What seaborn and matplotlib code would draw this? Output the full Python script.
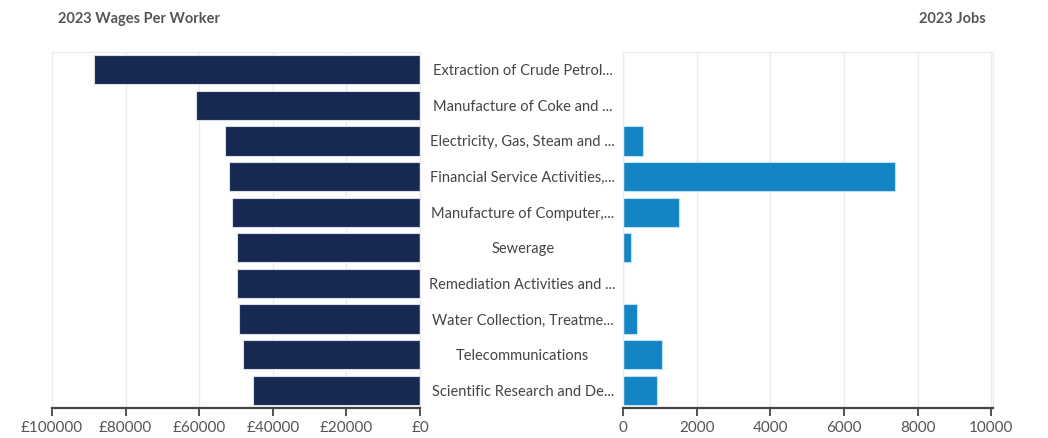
import matplotlib
matplotlib.use("Agg")
import matplotlib.pyplot as plt
import seaborn as sns
import pandas as pd

industries = [
    "Extraction of Crude Petrol...",
    "Manufacture of Coke and ...",
    "Electricity, Gas, Steam and ...",
    "Financial Service Activities,...",
    "Manufacture of Computer,...",
    "Sewerage",
    "Remediation Activities and ...",
    "Water Collection, Treatme...",
    "Telecommunications",
    "Scientific Research and De...",
]
wages = [88700, 60900, 52900, 52000, 51100, 49600, 49600, 49200, 48000, 45500]
jobs = [0, 0, 540, 7390, 1520, 230, 0, 390, 1060, 910]

wage_ticks = [100000, 80000, 60000, 40000, 20000, 0]
wage_tick_labels = ["£100000", "£80000", "£60000", "£40000", "£20000", "£0"]
job_ticks = [0, 2000, 4000, 6000, 8000, 10000]

df = pd.DataFrame({"industry": industries, "wages": wages, "jobs": jobs})

sns.set_theme(style="white")
plt.rcParams["font.family"] = ["Lato", "DejaVu Sans"]

W, H = 1048, 438
fig = plt.figure(figsize=(W / 100, H / 100), dpi=100)
top, bottom = 52, 408
axL = fig.add_axes([52 / W, 1 - bottom / H, 368 / W, (bottom - top) / H])
axR = fig.add_axes([623 / W, 1 - bottom / H, 370 / W, (bottom - top) / H])

sns.barplot(data=df, x="wages", y="industry", orient="h", color="#172852",
            saturation=1, width=0.82, edgecolor="#d8dde8", linewidth=0.8, ax=axL)
sns.barplot(data=df, x="jobs", y="industry", orient="h", color="#1385C5",
            saturation=1, width=0.82, edgecolor="#bfe0f3", linewidth=0.8, ax=axR)

axL.set_xlim(100000, 0)
axR.set_xlim(0, 10050)
for ax in (axL, axR):
    ax.set_ylim(9.5, -0.5)
    ax.set_xlabel("")
    ax.set_ylabel("")
    ax.grid(axis="x", color="#ebebeb", linewidth=1)
    ax.set_axisbelow(True)
    for s in ("top", "left", "right"):
        ax.spines[s].set_color("#ececec")
        ax.spines[s].set_linewidth(1)
    ax.spines["bottom"].set_color("#444444")
    ax.spines["bottom"].set_linewidth(1.6)
    ax.tick_params(axis="x", bottom=True, length=6, width=1.3, color="#444444",
                   labelsize=11, labelcolor="#555555", pad=3)

axL.set_xticks(wage_ticks)
axL.set_xticklabels(wage_tick_labels)
axR.set_xticks(job_ticks)
axR.set_xticklabels([str(t) for t in job_ticks])

axL.yaxis.tick_right()
axL.tick_params(axis="y", right=False, left=False, pad=68, labelsize=10.5,
                labelcolor="#444444")
for lab in axL.get_yticklabels():
    lab.set_ha("center")
axR.set_yticks([])

fig.text(58 / W, 1 - 19 / H, "2023 Wages Per Worker", ha="left", va="center",
         fontsize=10.5, fontweight="bold", color="#555555")
fig.text(986 / W, 1 - 19 / H, "2023 Jobs", ha="right", va="center",
         fontsize=10.5, fontweight="bold", color="#555555")

fig.savefig("out.png", dpi=100, facecolor="white")
